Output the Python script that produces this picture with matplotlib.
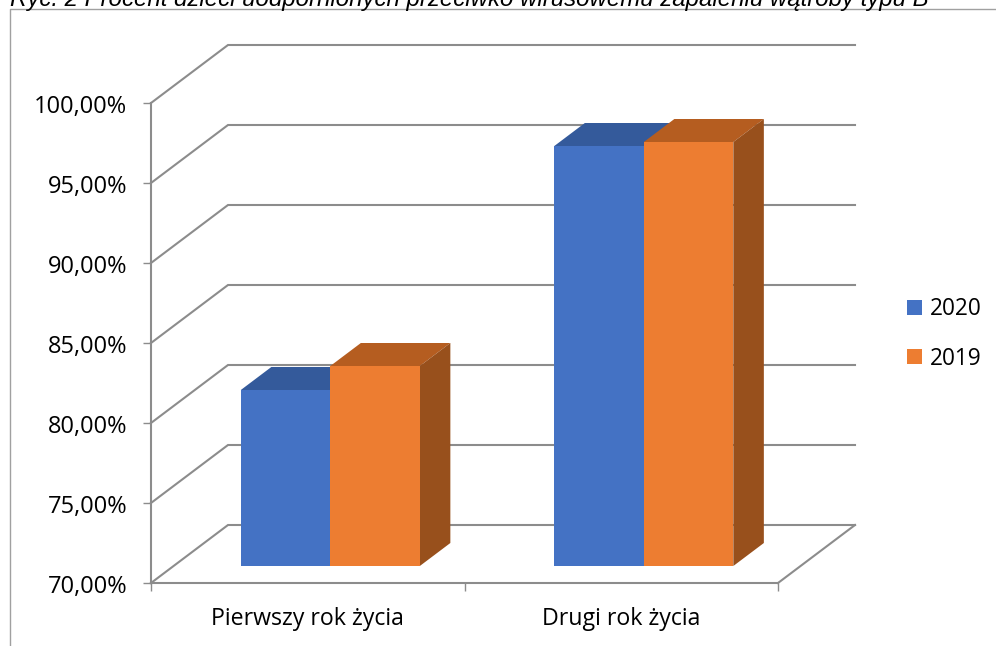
import matplotlib
matplotlib.use('Agg')
import matplotlib.pyplot as plt
from matplotlib.lines import Line2D
from matplotlib.patches import Patch, Polygon
from matplotlib.transforms import ScaledTranslation

# Values
categories = ['Pierwszy rok życia', 'Drugi rok życia']
years = ['2020', '2019']
values_2020 = [81.0, 96.25]
values_2019 = [82.5, 96.5]
y_ticks = [70, 75, 80, 85, 90, 95, 100]
y_labels = ['70,00%', '75,00%', '80,00%', '85,00%', '90,00%', '95,00%', '100,00%']
title = 'Ryc. 2 Procent dzieci uodpornionych przeciwko wirusowemu zapaleniu wątroby typu B'

W, H = 996, 646
GRID = '#8c8c8c'
FRONT = ['#4472C4', '#ED7D31']
TOP = ['#345A9B', '#B55D20']
SIDE = ['#2F5597', '#98501C']
FONT = 'Open Sans'

# oblique depth of the fake 3D box, in data units
DX = 77 / 313.5
DY = 58 / 16
BAR_W = 89.5 / 313.5
BAR_D0 = 17 / 58
BAR_D1 = 40 / 58


def proj(x, y, d):
    return x + DX * d, y + DY * d


fig = plt.figure(figsize=(W / 100, H / 100), dpi=100)
ax = fig.add_axes([151 / W, 1 - 583 / H, 627 / W, 480 / H])
ax.set_xlim(0, 2)
ax.set_ylim(70, 100)
ax.patch.set_alpha(0)
for s in ['top', 'right']:
    ax.spines[s].set_visible(False)
for s in ['left', 'bottom']:
    ax.spines[s].set_color(GRID)
    ax.spines[s].set_linewidth(1.5)

ax.set_yticks(y_ticks)
ax.set_yticklabels(y_labels, fontsize=17, family=FONT, color='black')
ax.set_xticks([0, 1, 2])
ax.set_xticklabels([])
ax.set_xticks([0.5, 1.5], labels=categories, minor=True, fontsize=16.7, family=FONT)
ax.tick_params(axis='both', which='major', color=GRID, width=1, length=6)
ax.tick_params(axis='y', pad=11)
ax.tick_params(axis='x', which='minor', length=0, pad=17)

# labels sit a little under their ticks
for lab in ax.get_yticklabels():
    lab.set_transform(lab.get_transform() + ScaledTranslation(0, -1 / 72, fig.dpi_scale_trans))

# wall gridlines with their slanted part on the side wall
for t in y_ticks:
    x1, y1 = proj(0, t, 1)
    x2, y2 = proj(2, t, 1)
    ax.plot([0, x1, x2], [t, y1, y2], color=GRID, lw=1.5, clip_on=False, zorder=1,
            solid_joinstyle='miter')

# right edge of the floor
x1, y1 = proj(2, 70, 1)
ax.plot([2, x1], [70, y1], color=GRID, lw=1.5, clip_on=False, zorder=1)


def draw_bar(x, v, i):
    corners = lambda pts: [proj(px, py, pd) for px, py, pd in pts]
    xr = x + BAR_W
    ax.add_patch(Polygon(corners([(x, v, BAR_D0), (xr, v, BAR_D0), (xr, v, BAR_D1), (x, v, BAR_D1)]),
                         fc=TOP[i], ec='none', clip_on=False, zorder=3))
    ax.add_patch(Polygon(corners([(xr, 70, BAR_D0), (xr, v, BAR_D0), (xr, v, BAR_D1), (xr, 70, BAR_D1)]),
                         fc=SIDE[i], ec='none', clip_on=False, zorder=3))
    ax.add_patch(Polygon(corners([(x, 70, BAR_D0), (xr, 70, BAR_D0), (xr, v, BAR_D0), (x, v, BAR_D0)]),
                         fc=FRONT[i], ec='none', clip_on=False, zorder=4))


for c in range(len(categories)):
    left = c + 0.5 - BAR_W
    draw_bar(left, values_2020[c], 0)
    draw_bar(left + BAR_W, values_2019[c], 1)

handles = [Patch(fc=FRONT[0], ec='none'), Patch(fc=FRONT[1], ec='none')]
fig.legend(handles, years, loc='center left', bbox_to_anchor=(900 / W, 1 - 334 / H),
           frameon=False, prop={'family': FONT, 'size': 16.3},
           handlelength=0.66, handleheight=0.66, handletextpad=0.35, labelspacing=1.12,
           borderaxespad=0, borderpad=0.3)

# clipped caption and frame of the pasted chart
fig.text(10 / W, 1 - 6 / H, title, fontsize=17.3, style='italic', family='Liberation Sans',
         color='black', va='baseline')
fig.add_artist(Line2D([10 / W, 10 / W, 1], [0, 1 - 9 / H, 1 - 9 / H], color='#a0a0a0', lw=1))

fig.savefig('out.png', dpi=100)
